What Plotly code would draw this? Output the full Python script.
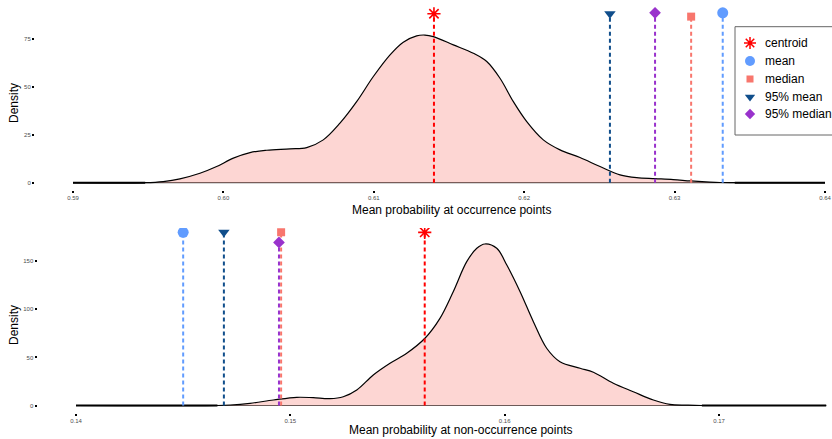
import plotly.graph_objects as go

# ---------------- data ----------------
# Density of mean probability at occurrence points
occ_x = [0.5900, 0.5948, 0.5960, 0.59711, 0.59844, 0.59955, 0.60066, 0.60177, 0.60288, 0.60443,
         0.60554, 0.60664, 0.60775, 0.60886, 0.60997, 0.61108, 0.61196, 0.61285, 0.61340, 0.61396,
         0.61529, 0.61662, 0.61751, 0.61839, 0.61928, 0.62017, 0.62127, 0.62238, 0.62371, 0.62504,
         0.62637, 0.62748, 0.62870, 0.62991, 0.63107, 0.63235, 0.63302, 0.6340, 0.6400]
occ_y = [0.0, 0.0, 0.6, 2.0, 4.9, 8.4, 12.8, 15.7, 16.9, 17.6,
         18.3, 22.3, 31.0, 42.2, 55.3, 66.6, 73.2, 76.5, 76.9, 76.1,
         71.8, 67.4, 63.1, 54.4, 42.2, 31.8, 22.3, 17.1, 13.1, 8.4,
         4.1, 2.6, 2.1, 1.6, 0.9, 0.3, 0.1, 0.0, 0.0]

# Density of mean probability at non-occurrence points
non_x = [0.1400, 0.1466, 0.14719, 0.14812, 0.14921, 0.1503, 0.15107, 0.15185, 0.15247, 0.1531,
         0.15387, 0.15465, 0.15543, 0.15628, 0.15698, 0.1576, 0.15823, 0.1587, 0.15908, 0.15963,
         0.1601, 0.16072, 0.16134, 0.16196, 0.16258, 0.16352, 0.16414, 0.16507, 0.16600, 0.16694,
         0.16771, 0.16849, 0.1692, 0.1750]
non_y = [0.0, 0.0, 0.5, 2.3, 5.7, 8.5, 8.1, 7.1, 9.1, 16.1,
         31.7, 43.9, 54.3, 69.9, 90.6, 118.3, 149.5, 163.4, 167.9, 163.4,
         146.0, 118.3, 87.1, 59.5, 45.5, 38.7, 34.5, 23.1, 14.3, 5.7,
         1.2, 0.4, 0.0, 0.0]

stat_names = ["centroid", "mean", "median", "95% mean", "95% median"]
stat_colors = ["#FF0000", "#619CFF", "#F8766D", "#104E8B", "#9932CC"]
stat_symbols = ["asterisk-open", "circle", "square", "triangle-down", "diamond"]
stat_sizes = [11, 11, 8, 10, 9]

occ_stat_x = [0.6140, 0.6332, 0.6311, 0.6257, 0.6287]
occ_stat_y = [88.0, 88.5, 86.5, 88.0, 88.5]

non_stat_x = [0.15627, 0.14500, 0.14957, 0.14690, 0.14947]
non_stat_y = [180.0, 180.0, 180.0, 180.0, 169.5]

x_ticks_occ = [0.59, 0.60, 0.61, 0.62, 0.63, 0.64]
y_ticks_occ = [0, 25, 50, 75]
x_ticks_non = [0.14, 0.15, 0.16, 0.17]
y_ticks_non = [0, 50, 100, 150]

# ---------------- layout helpers ----------------
W, H = 832, 439
FONT = "Liberation Sans, Arial, Helvetica, sans-serif"
FILL = "rgba(248,118,109,0.3)"


def px_x(p):
    return p / W


def px_y(p):
    return 1 - p / H


fig = go.Figure()


def add_panel(xs, ys, sx, sy, xa, ya):
    # baseline under the density
    fig.add_trace(go.Scatter(x=[xs[0], xs[-1]], y=[0, 0], mode="lines",
                             line=dict(color="#555555", width=1.2),
                             xaxis=xa, yaxis=ya, showlegend=False, hoverinfo="skip"))
    # filled density
    fig.add_trace(go.Scatter(x=xs, y=ys, mode="lines", fill="tozeroy", fillcolor=FILL,
                             line=dict(color="black", width=1.2, shape="spline", smoothing=1.0),
                             xaxis=xa, yaxis=ya, showlegend=False, hoverinfo="skip"))
    # zero-density stretches drawn heavier
    fig.add_trace(go.Scatter(x=[xs[0], xs[1]], y=[0, 0], mode="lines",
                             line=dict(color="black", width=2),
                             xaxis=xa, yaxis=ya, showlegend=False, hoverinfo="skip"))
    fig.add_trace(go.Scatter(x=[xs[-2], xs[-1]], y=[0, 0], mode="lines",
                             line=dict(color="black", width=2),
                             xaxis=xa, yaxis=ya, showlegend=False, hoverinfo="skip"))
    # statistic drop lines and markers
    order = [2, 4, 0, 1, 3]
    for i in order:
        fig.add_trace(go.Scatter(x=[sx[i], sx[i]], y=[0, sy[i]], mode="lines",
                                 line=dict(color=stat_colors[i], width=2, dash="4px,3px"),
                                 xaxis=xa, yaxis=ya, showlegend=False, hoverinfo="skip"))
    for i in order:
        sym = stat_symbols[i]
        fig.add_trace(go.Scatter(x=[sx[i]], y=[sy[i]], mode="markers",
                                 marker=dict(symbol=sym, size=stat_sizes[i], color=stat_colors[i],
                                             line=dict(color=stat_colors[i],
                                                       width=1.6 if sym == "asterisk-open" else 0)),
                                 xaxis=xa, yaxis=ya, showlegend=False, name=stat_names[i]))


add_panel(occ_x, occ_y, occ_stat_x, occ_stat_y, "x", "y")
add_panel(non_x, non_y, non_stat_x, non_stat_y, "x2", "y2")

# legend markers on a pixel-scaled helper axis
leg_y = [43, 61, 79, 97, 114]
for i in range(5):
    sym = stat_symbols[i]
    fig.add_trace(go.Scatter(x=[750], y=[leg_y[i]], mode="markers",
                             marker=dict(symbol=sym, size=[10, 10, 7, 9, 8][i], color=stat_colors[i],
                                         line=dict(color=stat_colors[i],
                                                   width=1.5 if sym == "asterisk-open" else 0)),
                             xaxis="x3", yaxis="y3", showlegend=False, hoverinfo="skip"))

tickfont = dict(family=FONT, size=6, color="#4D4D4D")
common_x = dict(showgrid=False, zeroline=False, showline=False, ticks="outside",
                ticklen=2, tickwidth=2, tickcolor="black", tickfont=tickfont, fixedrange=True)
common_y = dict(showgrid=False, zeroline=False, showline=False, ticks="outside",
                ticklen=2, tickwidth=2, tickcolor="black", tickfont=tickfont, fixedrange=True)

occ_ppu = (825 - 73) / 0.05
non_ppu = (719 - 76) / 0.03

fig.update_layout(
    width=W, height=H,
    margin=dict(l=0, r=0, t=0, b=0),
    paper_bgcolor="white", plot_bgcolor="rgba(0,0,0,0)",
    showlegend=False,
    font=dict(family=FONT, size=12, color="black"),
    xaxis=dict(common_x, domain=[px_x(35), 1], anchor="y",
               range=[0.59 - (73 - 35) / occ_ppu, 0.64 + (832 - 825) / occ_ppu],
               tickvals=x_ticks_occ, ticktext=[f"{v:.2f}" for v in x_ticks_occ]),
    yaxis=dict(common_y, domain=[px_y(190), px_y(5)], anchor="x",
               range=[-(190 - 182.7) / 1.92, (182.7 - 5) / 1.92],
               tickvals=y_ticks_occ, ticktext=[str(v) for v in y_ticks_occ]),
    xaxis2=dict(common_x, domain=[px_x(37.5), 1], anchor="y2",
                range=[0.14 - (76 - 37.5) / non_ppu, 0.14 + (832 - 76) / non_ppu],
                tickvals=x_ticks_non, ticktext=[f"{v:.2f}" for v in x_ticks_non]),
    yaxis2=dict(common_y, domain=[px_y(413), px_y(228)], anchor="x2",
                range=[-(413 - 405.5) / 0.962, (405.5 - 228) / 0.962],
                tickvals=y_ticks_non, ticktext=[str(v) for v in y_ticks_non]),
    xaxis3=dict(domain=[px_x(735), 1], range=[735, 832], visible=False, fixedrange=True,
                anchor="y3"),
    yaxis3=dict(domain=[px_y(135), px_y(26.7)], range=[135, 26.7], visible=False,
                fixedrange=True, anchor="x3"),
)

# legend box and labels
fig.add_shape(type="rect", xref="paper", yref="paper",
              x0=px_x(735), x1=px_x(845), y0=px_y(135), y1=px_y(26.7),
              line=dict(color="#666666", width=1), fillcolor="rgba(0,0,0,0)", layer="below")
for i in range(5):
    fig.add_annotation(x=763, y=leg_y[i], xref="x3", yref="y3", text=stat_names[i],
                       showarrow=False, xanchor="left", yanchor="middle",
                       font=dict(family=FONT, size=12, color="black"))

# axis titles
fig.add_annotation(x=px_x(451), y=px_y(210), xref="paper", yref="paper",
                   text="Mean probability at occurrence points", showarrow=False,
                   xanchor="center", yanchor="middle", font=dict(family=FONT, size=12))
fig.add_annotation(x=px_x(460), y=px_y(430), xref="paper", yref="paper",
                   text="Mean probability at non-occurrence points", showarrow=False,
                   xanchor="center", yanchor="middle", font=dict(family=FONT, size=12))
fig.add_annotation(x=px_x(14), y=px_y(103), xref="paper", yref="paper",
                   text="Density", showarrow=False, textangle=-90,
                   xanchor="center", yanchor="middle", font=dict(family=FONT, size=12))
fig.add_annotation(x=px_x(14), y=px_y(325), xref="paper", yref="paper",
                   text="Density", showarrow=False, textangle=-90,
                   xanchor="center", yanchor="middle", font=dict(family=FONT, size=12))

fig.write_html("out.html")
